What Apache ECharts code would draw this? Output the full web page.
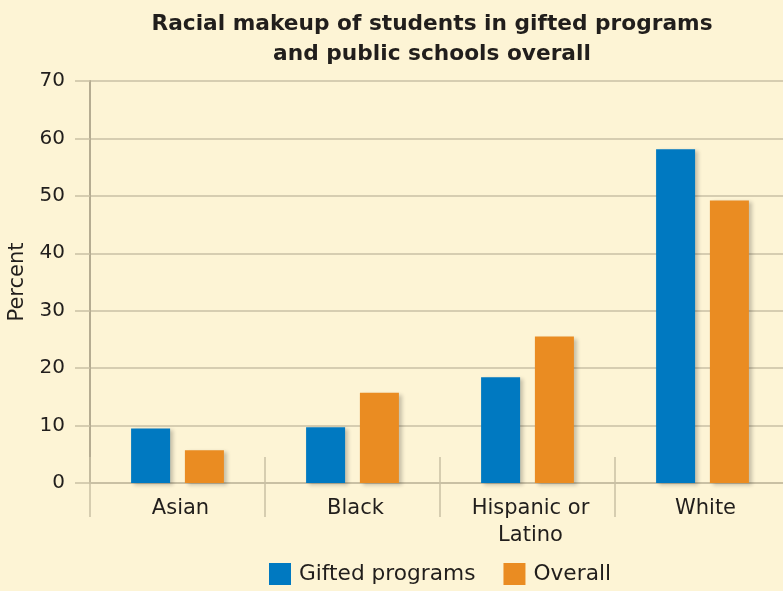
<!DOCTYPE html>
<html>
<head>
<meta charset="utf-8">
<script src="https://cdn.jsdelivr.net/npm/echarts@6/dist/echarts.min.js"></script>
<style>
html,body{margin:0;padding:0;background:#fdf4d5;}
#main{width:783px;height:591px;}
</style>
</head>
<body>
<div id="main"></div>
<script>
const categories = ['Asian', 'Black', 'Hispanic or\nLatino', 'White'];
const giftedValues = [9.5, 9.7, 18.4, 58.1];
const overallValues = [5.7, 15.7, 25.5, 49.2];
const yTicks = [0, 10, 20, 30, 40, 50, 60, 70];

const chart = echarts.init(document.getElementById('main'), null, {renderer: 'canvas'});
const font = 'DejaVu Sans';
const textColor = '#211e1c';
const gridColor = '#c9c0a4';
const barShadow = {shadowBlur: 4, shadowOffsetX: 3, shadowOffsetY: 2, shadowColor: 'rgba(0,0,0,0.22)'};

chart.setOption({
  backgroundColor: '#fdf4d5',
  title: {
    text: 'Racial makeup of students in gifted programs\nand public schools overall',
    left: 427, top: 4, textAlign: 'center',
    textStyle: {fontFamily: font, fontWeight: 'bold', fontSize: 21.7, lineHeight: 30, color: textColor}
  },
  legend: {
    left: 264, top: 558,
    itemWidth: 22, itemHeight: 22, itemGap: 28,
    icon: 'rect',
    textStyle: {fontFamily: font, fontSize: 21.7, color: textColor, padding: [0, 0, 0, 3]},
    data: ['Gifted programs', 'Overall']
  },
  grid: {left: 90, right: -7, top: 81, bottom: 108, outerBoundsMode: 'none', containLabel: false},
  xAxis: [{
    type: 'category',
    data: categories,
    axisLine: {lineStyle: {color: gridColor, width: 2}},
    axisTick: {show: true, length: 34, lineStyle: {color: gridColor, width: 1.5}},
    axisLabel: {fontFamily: font, fontSize: 21, color: textColor, lineHeight: 27, margin: 12,
      padding: [0, 0, 0, 6]}
  }, {
    type: 'category',
    data: categories,
    position: 'bottom',
    axisLine: {show: false},
    axisTick: {show: true, inside: true, length: 26, lineStyle: {color: gridColor, width: 1.5}},
    axisLabel: {show: false}
  }],
  yAxis: {
    type: 'value',
    min: 0, max: 70, interval: 10,
    name: 'Percent',
    nameLocation: 'middle',
    nameGap: 62,
    nameRotate: 90,
    nameTextStyle: {fontFamily: font, fontSize: 21, color: textColor},
    axisLine: {show: true, lineStyle: {color: '#b5ac92', width: 2}},
    axisTick: {show: true, length: 15, lineStyle: {color: gridColor, width: 1.5}},
    axisLabel: {fontFamily: font, fontSize: 20, color: textColor, margin: 25,
      formatter: v => yTicks.includes(v) ? String(v) : ''},
    splitLine: {show: true, lineStyle: {color: gridColor, width: 1.5}}
  },
  series: [{
    name: 'Gifted programs',
    type: 'bar',
    data: giftedValues,
    barWidth: 39,
    barGap: '38%',
    itemStyle: Object.assign({color: '#0079c1'}, barShadow)
  }, {
    name: 'Overall',
    type: 'bar',
    data: overallValues,
    barWidth: 39,
    barGap: '38%',
    itemStyle: Object.assign({color: '#ea8c22'}, barShadow)
  }]
});
</script>
</body>
</html>
